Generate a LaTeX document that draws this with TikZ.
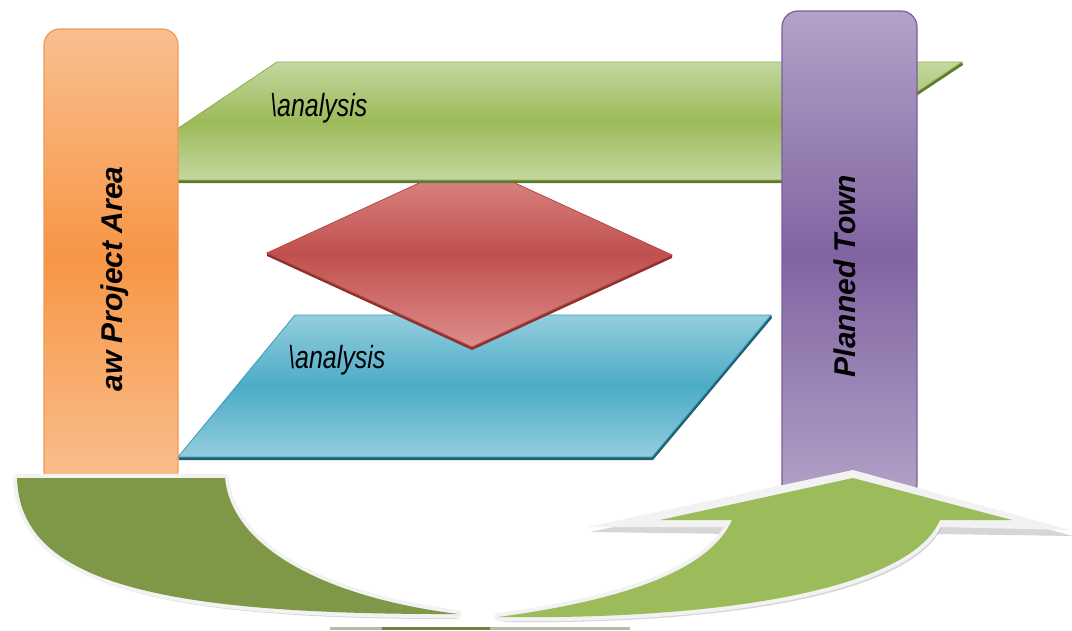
\documentclass[tikz,border=0pt]{standalone}
\usepackage{fontspec}
\setmainfont{Liberation Sans}
\newfontfamily\condfont{Liberation Sans}[FakeStretch=0.78]
\definecolor{grnL}{HTML}{C4D79F}
\definecolor{grnM}{HTML}{9BBB59}
\definecolor{grnE}{HTML}{8AAE4E}
\definecolor{grnD}{HTML}{5F7A2E}
\definecolor{bluL}{HTML}{93CDDD}
\definecolor{bluM}{HTML}{4BACC6}
\definecolor{bluE}{HTML}{3A9CB8}
\definecolor{bluD}{HTML}{245F70}
\definecolor{redL}{HTML}{DC8E8C}
\definecolor{redM}{HTML}{C0504D}
\definecolor{redE}{HTML}{B84744}
\definecolor{redD}{HTML}{8E302E}
\definecolor{orgL}{HTML}{F9BF8F}
\definecolor{orgM}{HTML}{F79646}
\definecolor{orgE}{HTML}{EE9A55}
\definecolor{purL}{HTML}{B3A2C7}
\definecolor{purM}{HTML}{8064A2}
\definecolor{purE}{HTML}{7A5E9E}
\definecolor{olive}{HTML}{7F9848}
\definecolor{arrG}{HTML}{9CBB5A}
\definecolor{rim}{HTML}{F2F2F2}
\definecolor{reflA}{HTML}{6F8046}
\definecolor{reflB}{HTML}{B4BCA6}
\begin{document}
\begin{tikzpicture}[x=1pt,y=-1pt,
  bandtext/.style={font=\condfont\itshape\fontsize{32}{32}\selectfont, inner sep=0, anchor=base west},
  coltext/.style={font=\bfseries\itshape\fontsize{30}{30}\selectfont, inner sep=0, rotate=90, anchor=base},
  greenband/.style={top color=grnL, bottom color=grnL, middle color=grnM, draw=grnE, line width=0.8},
  blueband/.style={top color=bluL, bottom color=bluL, middle color=bluM, draw=bluE, line width=0.8},
  redplate/.style={top color=redL, bottom color=redL, middle color=redM, draw=redE, line width=0.8},
  orangecol/.style={top color=orgL, bottom color=orgL, middle color=orgM, draw=orgE, line width=1.2, rounded corners=16},
  purplecol/.style={top color=purL, bottom color=purL, middle color=purM, draw=purE, line width=1.2, rounded corners=16},
  rimline/.style={draw=rim, line width=8, line join=round},
  dropshadow/.style={fill=black!45, opacity=0.35}
]
\useasboundingbox[fill=white] (0,0) rectangle (1072,630);

% ---- blue band
\coordinate (bTL) at (295,315); \coordinate (bTR) at (771,315);
\coordinate (bBR) at (652,457); \coordinate (bBL) at (178,457);
\fill[bluD] ([shift={(1,3)}]bBL) -- ([shift={(1,3)}]bBR) -- ([shift={(1,3)}]bTR) -- (bTR) -- (bBR) -- (bBL) -- cycle;
\path[blueband] (bTL) -- (bTR) -- (bBR) -- (bBL) -- cycle;

% ---- red diamond
\coordinate (dL) at (267,253); \coordinate (dB) at (472,347);
\coordinate (dR) at (672,255); \coordinate (dT) at (467,161);
\fill[redD] (dL) -- ([shift={(0,3)}]dL) -- ([shift={(0,3)}]dB) -- ([shift={(0,3)}]dR) -- (dR) -- (dB) -- cycle;
\path[redplate] (dL) -- (dB) -- (dR) -- (dT) -- cycle;

% ---- green band
\coordinate (gBL) at (101,180); \coordinate (gBR) at (785,180);
\coordinate (gTR) at (962,62); \coordinate (gTL) at (277,62);
\fill[grnD] ([shift={(0,3)}]gBL) -- ([shift={(0,3)}]gBR) -- ([shift={(1,3)}]gTR) -- (gTR) -- (gBR) -- (gBL) -- cycle;
\path[greenband] (gBL) -- (gBR) -- (gTR) -- (gTL) -- cycle;

\node[bandtext] (ta) at (270,116) {\textbackslash analysis};
\node[bandtext] (tb) at (288,368) {\textbackslash analysis};

% ---- columns
\path[orangecol] (44,486) -- (44,29) -- (178,29) -- (178,486) -- cycle;
\path[purplecol] (782,500) -- (782,11) -- (917,11) -- (917,500) -- cycle;
\node[coltext] (raw) at (122,279) {aw Project Area};
\node[coltext] (town) at (855,276) {Planned Town};

% ---- reflection strip at the bottom
\fill[reflB] (330,627) rectangle (630,630);
\fill[reflA] (382,627) rectangle (490,630);

% ---- left curved band (dark olive)
\coordinate (lA) at (17,478); \coordinate (lB) at (225,478); \coordinate (lT) at (458,614);
\fill[dropshadow] ([shift={(3,5)}]lA) -- ([shift={(3,5)}]lB) .. controls (235,555) and (333,603) .. ([shift={(3,5)}]lT) .. controls (153,620) and (23,585) .. ([shift={(3,5)}]lA) -- cycle;
\path[rimline, fill=rim] (lA) -- (lB) .. controls (232,550) and (330,598) .. (lT) .. controls (150,615) and (20,580) .. (lA) -- cycle;
\fill[olive] (lA) -- (lB) .. controls (232,550) and (330,598) .. (lT) .. controls (150,615) and (20,580) .. (lA) -- cycle;

% ---- right curved arrow (light green)
\coordinate (rS) at (498,617); \coordinate (rN1) at (732,520); \coordinate (rB1) at (660,520);
\coordinate (rTip) at (853,478); \coordinate (rB2) at (1012,520); \coordinate (rN2) at (940,520);
\fill[dropshadow] ([shift={(3,5)}]rS) .. controls (628,603) and (713,575) .. ([shift={(3,5)}]rN1) -- ([shift={(3,5)}]rB1) -- ([shift={(3,5)}]rTip) -- ([shift={(3,5)}]rB2) -- ([shift={(3,5)}]rN2) .. controls (913,595) and (723,625) .. ([shift={(3,5)}]rS) -- cycle;
\fill[dropshadow] (590,532) -- (853,476) -- (1073,536) -- (940,534) -- (732,534) -- cycle;
\fill[rim] (587,527) -- (853,470) -- (1070,530) -- (940,527) -- (732,527) -- cycle;
\path[rimline, fill=rim] (rS) .. controls (625,600) and (710,570) .. (rN1) -- (rB1) -- (rTip) -- (rB2) -- (rN2) .. controls (910,590) and (720,620) .. (rS) -- cycle;
\fill[arrG] (rS) .. controls (625,600) and (710,570) .. (rN1) -- (rB1) -- (rTip) -- (rB2) -- (rN2) .. controls (910,590) and (720,620) .. (rS) -- cycle;
\end{tikzpicture}
\end{document}
